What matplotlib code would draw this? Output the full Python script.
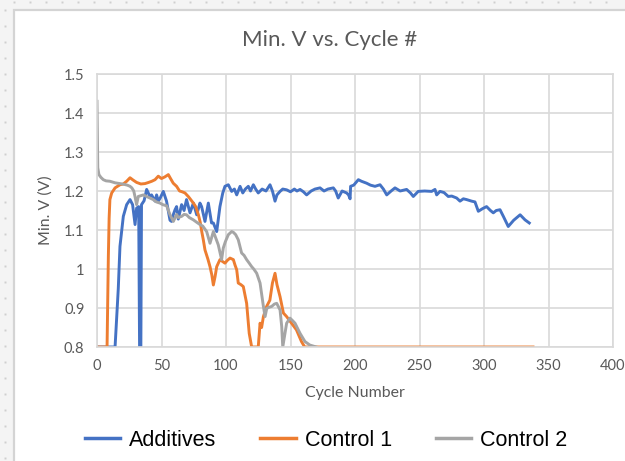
import matplotlib
matplotlib.use("Agg")
import matplotlib.pyplot as plt
from matplotlib.patches import Rectangle
from matplotlib.lines import Line2D

# ---- data -------------------------------------------------------------
add_cycle = [0, 14, 16.5, 17.8, 20.4, 23, 25.6, 27.6, 29.5, 30.7, 32.3, 33.0, 34.0, 34.5,
             36.5, 38.5, 41, 42.3, 45, 46.2, 47.5, 49, 51.4, 53.9, 56.6, 57.8, 59.2, 60.5,
             61.7, 63, 65.6, 67.5, 69.4, 72.1, 74.7, 77.3, 79.8, 81.1, 83.7, 86.3, 88.8,
             90.2, 92.8, 95.3, 97.5, 99.2, 101.8, 104.4, 106.5, 108.3, 110.9, 113, 115,
             117.3, 119, 121.2, 123, 125, 128, 131, 134.1, 136, 138, 139.5, 141.9, 144,
             147, 150, 153, 155, 157.4, 160, 162.5, 166, 169, 172.9, 176, 179, 183.2,
             185, 187, 190, 193.5, 195, 196.2, 196.6, 199, 202.6, 205, 209, 212, 215.5,
             219.4, 222, 224.6, 228, 231, 235, 240, 243, 245.2, 249, 254, 259.4, 262,
             263.3, 265.9, 269, 272.3, 275, 278.8, 281.4, 284, 286.5, 290.4, 293, 295.6,
             299, 302, 305, 307.2, 309.5, 312.4, 315, 318.8, 323, 328, 331.8, 335.1]
add_v = [0.80, 0.80, 0.95, 1.058, 1.135, 1.165, 1.178, 1.165, 1.114, 1.156, 1.16, 0.80, 0.80, 1.165,
         1.175, 1.204, 1.186, 1.19, 1.174, 1.19, 1.174, 1.182, 1.199, 1.174, 1.125, 1.122, 1.14, 1.152,
         1.16, 1.128, 1.165, 1.15, 1.178, 1.144, 1.169, 1.139, 1.169, 1.16, 1.122, 1.169, 1.118,
         1.118, 1.096, 1.16, 1.195, 1.212, 1.216, 1.199, 1.205, 1.19, 1.212, 1.195, 1.205,
         1.212, 1.2, 1.216, 1.205, 1.195, 1.205, 1.2, 1.216, 1.2, 1.174, 1.19, 1.199, 1.205,
         1.203, 1.198, 1.205, 1.2, 1.204, 1.198, 1.19, 1.2, 1.205, 1.208, 1.2, 1.205, 1.208,
         1.2, 1.182, 1.2, 1.195, 1.19, 1.18, 1.212, 1.215, 1.229, 1.225, 1.22, 1.215, 1.212,
         1.216, 1.205, 1.19, 1.2, 1.208, 1.2, 1.204, 1.195, 1.186, 1.199, 1.2, 1.199, 1.204,
         1.19, 1.199, 1.196, 1.186, 1.187, 1.182, 1.174, 1.18, 1.178, 1.174, 1.172, 1.148,
         1.155, 1.16, 1.15, 1.144, 1.15, 1.152, 1.135, 1.109, 1.125, 1.139, 1.126, 1.118]

c1_cycle = [0, 7.8, 8.8, 9.4, 10, 11.4, 14, 17.8, 20.4, 23, 25.6, 28, 30.7, 34, 37.2, 40,
            42.5, 45, 47.5, 50, 52.5, 55.3, 57, 59.1, 61.7, 64, 66, 68.2, 71, 74.7, 76.5,
            78.6, 80, 81.2, 82.4, 83.7, 86, 87.6, 89, 90.2, 91.5, 92.8, 95.3, 97, 99.2,
            101, 103.1, 105.7, 107, 108.3, 109.5, 111.5, 113.4, 116, 118, 119.9, 125,
            126.4, 127.6, 129, 131.5, 134, 136, 138, 139.5, 141.9, 144.5, 147, 150.8,
            154.6, 158.5, 161, 338]
c1_v = [0.80, 0.80, 1.032, 1.13, 1.178, 1.195, 1.208, 1.216, 1.218, 1.225, 1.234, 1.228, 1.222,
        1.218, 1.219, 1.222, 1.225, 1.229, 1.238, 1.232, 1.236, 1.242, 1.232, 1.22, 1.212, 1.2,
        1.198, 1.195, 1.185, 1.169, 1.16, 1.139, 1.12, 1.096, 1.075, 1.049, 1.025, 1.006, 0.985,
        0.959, 0.98, 1.006, 1.024, 1.02, 1.015, 1.022, 1.028, 1.024, 1.01, 0.998, 0.964, 0.96,
        0.955, 0.912, 0.835, 0.80, 0.80, 0.861, 0.85, 0.878, 0.904, 0.92, 0.964, 0.989, 0.96,
        0.929, 0.887, 0.878, 0.861, 0.844, 0.814, 0.80, 0.80]

c2_cycle = [0, 0.6, 1.5, 3, 4.9, 7, 10, 14, 17.8, 21, 23.5, 25.6, 27, 28.5, 29.5, 30.7, 32,
            34, 36, 38.4, 41, 43.6, 46, 48.8, 51, 54, 56.6, 59.2, 61.7, 63, 65.6, 67.5,
            69.4, 71.5, 74.7, 77.2, 79.8, 82, 85, 87.6, 90.2, 92, 94, 96.6, 97.9, 99.5,
            101.8, 104.4, 105.7, 107.5, 109.5, 112.1, 114, 116, 118, 119.9, 121.5,
            123.8, 126.4, 129, 130.3, 131.6, 133.5, 135.4, 137.5, 139.3, 141.9, 143.2,
            144, 147, 149.6, 151.5, 153.5, 157.4, 161.2, 165, 170]
c2_v = [1.43, 1.26, 1.242, 1.235, 1.229, 1.226, 1.225, 1.221, 1.219, 1.217, 1.215, 1.212,
        1.208, 1.2, 1.185, 1.165, 1.186, 1.188, 1.19, 1.186, 1.182, 1.178, 1.172, 1.169,
        1.165, 1.162, 1.139, 1.122, 1.14, 1.132, 1.135, 1.14, 1.139, 1.132, 1.126, 1.12,
        1.114, 1.11, 1.096, 1.066, 1.096, 1.08, 1.062, 1.024, 1.054, 1.07, 1.088, 1.096,
        1.094, 1.088, 1.075, 1.041, 1.035, 1.024, 1.015, 1.006, 1.0, 0.989, 0.964, 0.904,
        0.878, 0.899, 0.902, 0.904, 0.91, 0.912, 0.895, 0.852, 0.80, 0.861, 0.874, 0.868,
        0.861, 0.835, 0.814, 0.805, 0.80]

x_ticks = [0, 50, 100, 150, 200, 250, 300, 350, 400]
y_ticks = [0.8, 0.9, 1.0, 1.1, 1.2, 1.3, 1.4, 1.5]
y_tick_labels = ["0.8", "0.9", "1", "1.1", "1.2", "1.3", "1.4", "1.5"]

series = [
    ("Additives", add_cycle, add_v, "#4472C4"),
    ("Control 1", c1_cycle, c1_v, "#ED7D31"),
    ("Control 2", c2_cycle, c2_v, "#A5A5A5"),
]

# ---- figure -----------------------------------------------------------
W, H = 625, 461
fig = plt.figure(figsize=(W / 100, H / 100), dpi=100)
fig.patch.set_facecolor("#f4f4f4")

# sheet dots around the chart box
dot_x = [5] * 29 + [14 + 16 * i for i in range(38)]
dot_y = [10 + 16 * i for i in range(29)] + [2] * 38
fig.add_artist(Line2D([x / W for x in dot_x], [1 - y / H for y in dot_y],
                      transform=fig.transFigure, linestyle="none", marker="s",
                      markersize=1.4, color="#cfcfcf", markeredgewidth=0, zorder=-3))

# white chart box with a soft border
fig.add_artist(Rectangle((14 / W, -0.01), 1, 1.01 - 10 / H, transform=fig.transFigure,
                         facecolor="white", edgecolor="#d4d4d4", linewidth=1.6, zorder=-2))

ax = fig.add_axes([97 / W, 1 - 347 / H, (613 - 97) / W, (347 - 74) / H])
ax.set_facecolor("white")

for name, cx, cv, col in series:
    ax.plot(cx, cv, color=col, linewidth=2.1, solid_joinstyle="round", label=name)

ax.set_xlim(0, 400)
ax.set_ylim(0.8, 1.5)
ax.set_xticks(x_ticks)
ax.set_yticks(y_ticks)
ax.set_yticklabels(y_tick_labels)
ax.grid(True, color="#d9d9d9", linewidth=1.2)
ax.set_axisbelow(True)
for s in ax.spines.values():
    s.set_color("#d9d9d9")
    s.set_linewidth(1.2)
ax.tick_params(length=0, pad=9, labelsize=10.5, colors="#595959")
for lab in ax.get_xticklabels() + ax.get_yticklabels():
    lab.set_fontfamily("Lato")

fig.text(330 / W, 1 - 40 / H, "Min. V vs. Cycle #", ha="center", va="center",
         fontsize=16, color="#595959", family="Lato")
fig.text(355 / W, 1 - 393 / H, "Cycle Number", ha="center", va="center",
         fontsize=11.4, color="#595959", family="Lato")
fig.text(46 / W, 1 - 210 / H, "Min. V (V)", ha="center", va="center", rotation=90,
         fontsize=11.4, color="#595959", family="Lato")

handles = [Line2D([], [], color=c, linewidth=2.5) for _, _, _, c in series]
fig.legend(handles, [s[0] for s in series], loc="center", ncol=3,
           bbox_to_anchor=(326 / W, 1 - 440 / H), frameon=False,
           prop={"family": "Liberation Sans", "size": 15.5},
           handlelength=1.65, handletextpad=0.4, columnspacing=2.05)

fig.savefig("out.png", dpi=100, facecolor=fig.get_facecolor())
